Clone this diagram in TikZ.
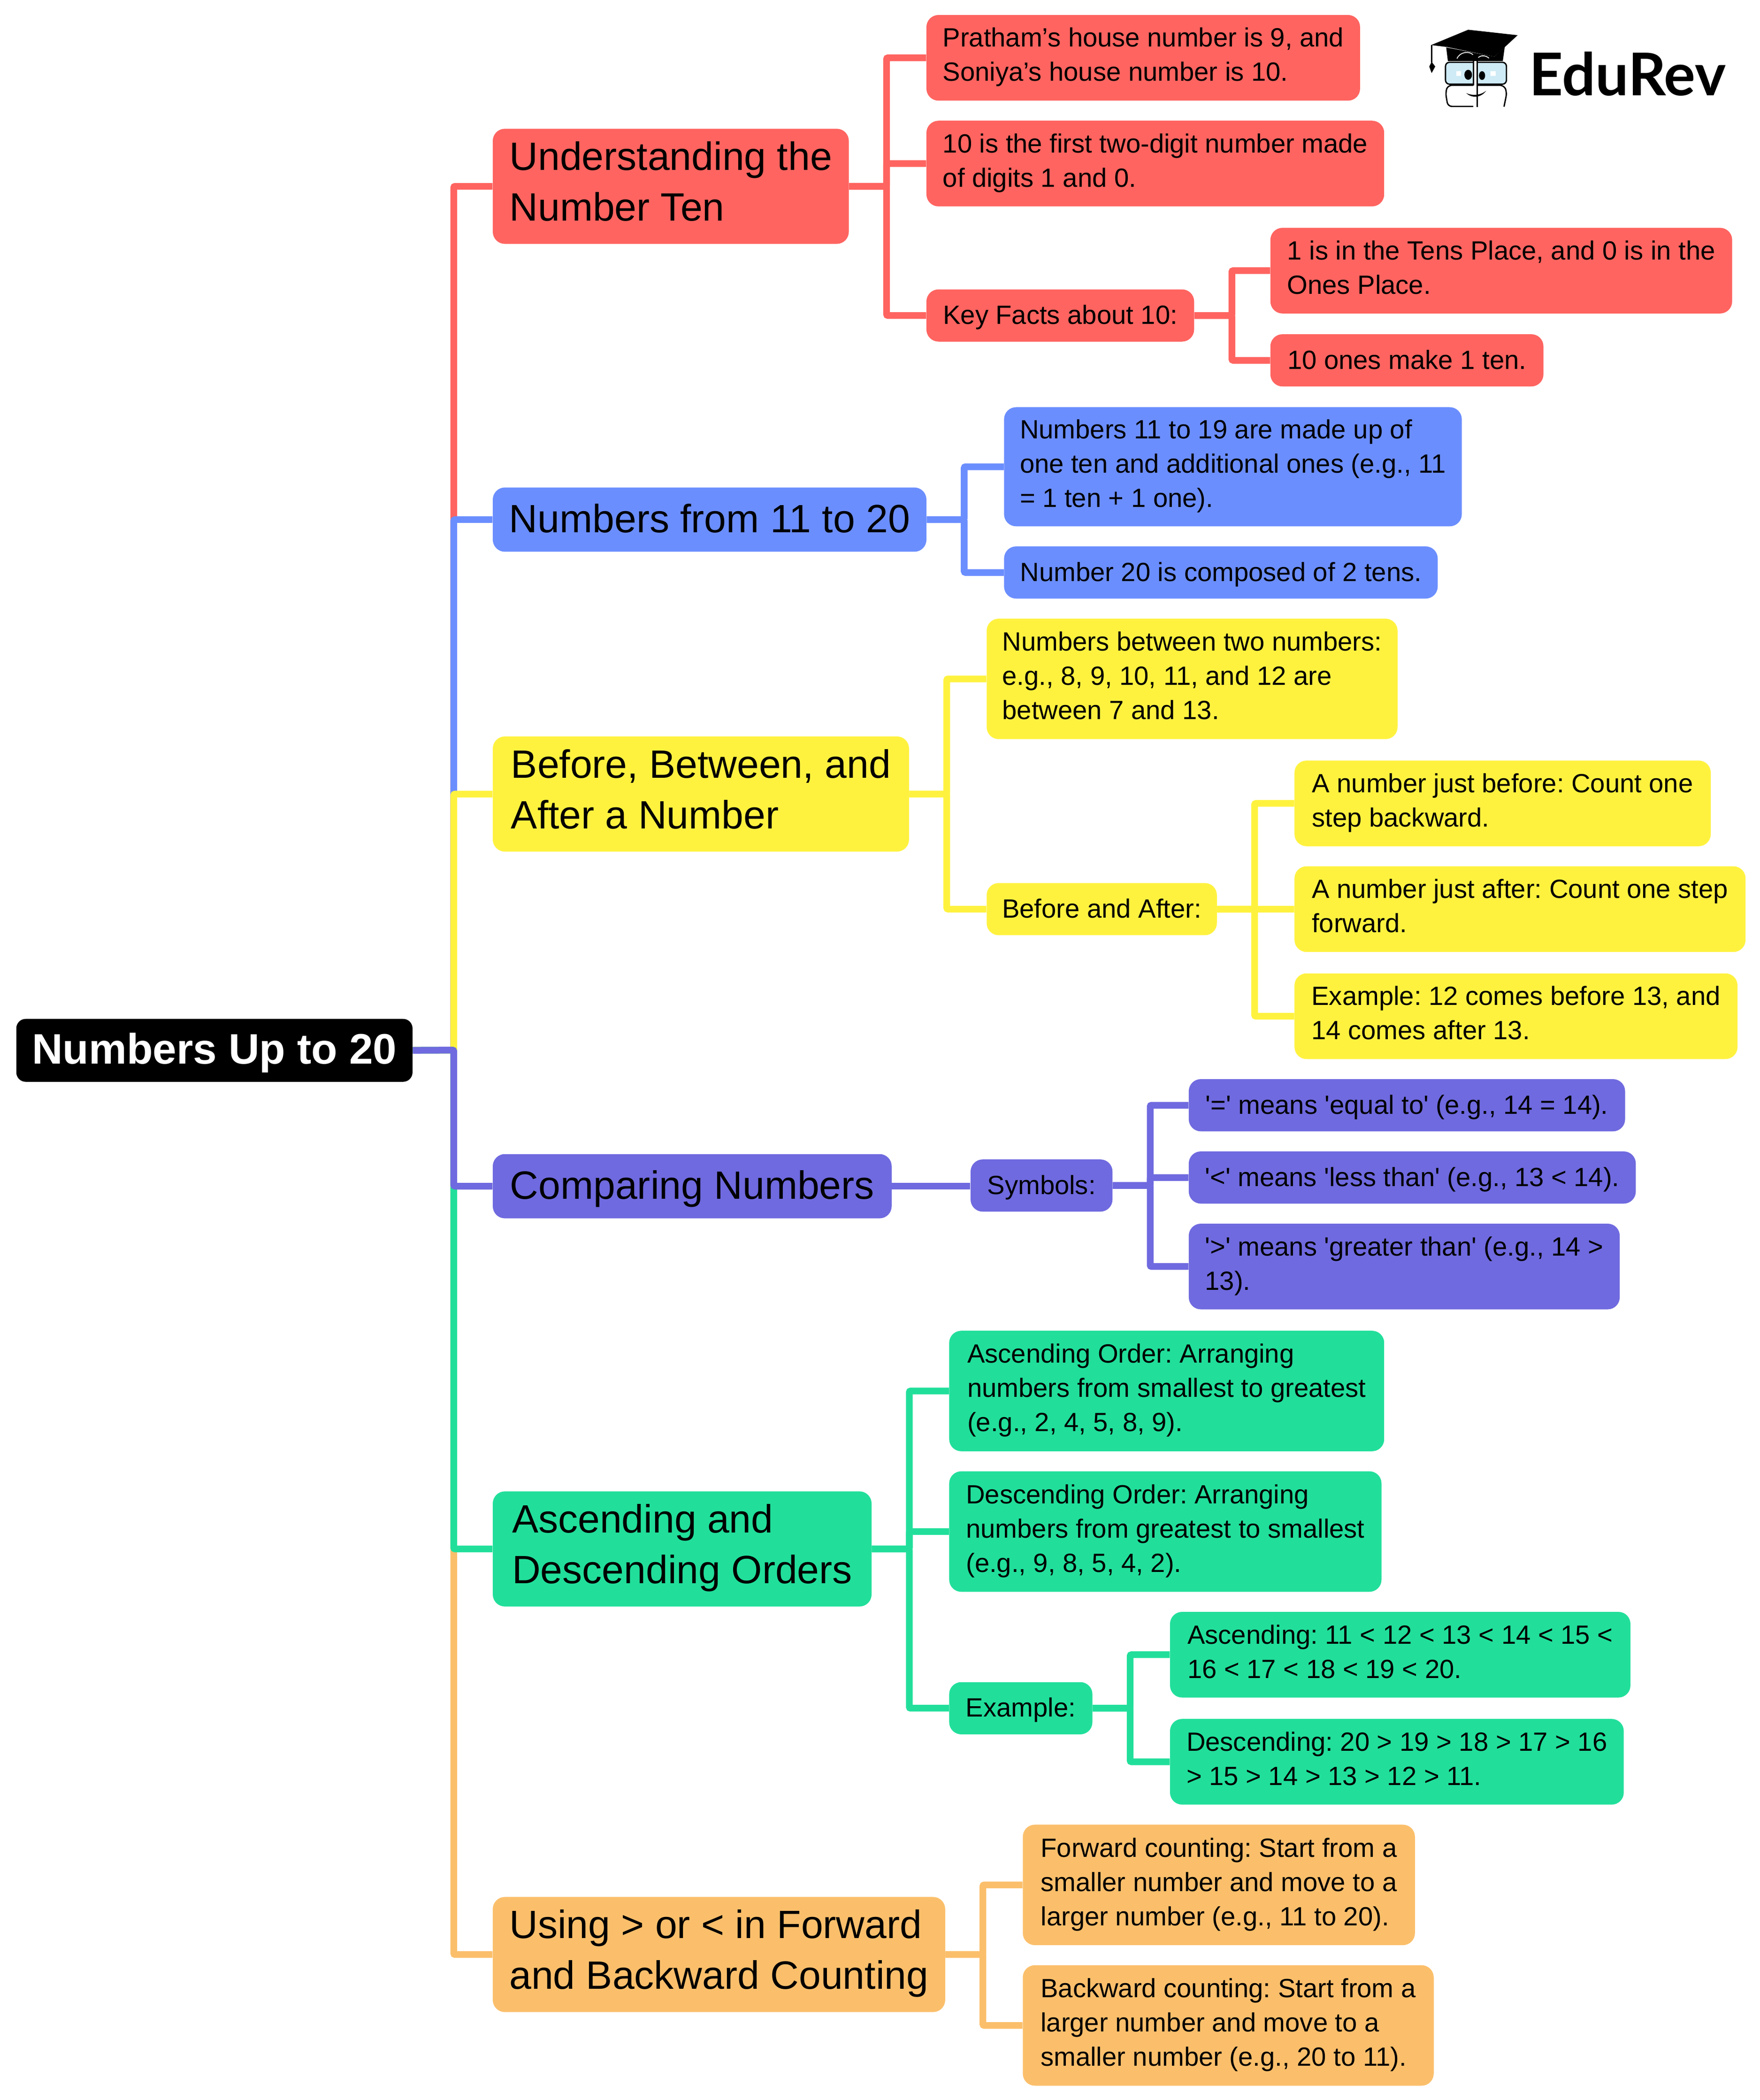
\documentclass[tikz,border=0pt]{standalone}
\usepackage{fontspec}
\newfontfamily\mapfont{Liberation Sans}
\newfontfamily\logofont{Lato}
\definecolor{cRed}{HTML}{FF6460}
\definecolor{cBlue}{HTML}{6B8EFF}
\definecolor{cYellow}{HTML}{FFF23F}
\definecolor{cPurple}{HTML}{6F6ADF}
\definecolor{cGreen}{HTML}{21DF9B}
\definecolor{cOrange}{HTML}{FBBF6B}
\tikzset{
	rootbox/.style={fill=black, text=white, rounded corners=7pt, inner sep=0pt, anchor=north west,
		font=\mapfont\bfseries\frenchspacing\fontsize{31.85}{38}\selectfont,
		execute at begin node={\rule{0pt}{28pt}}, execute at end node={\rule[-8pt]{0pt}{8pt}}},
	topic/.style={fill=#1, rounded corners=9pt, inner sep=0pt, anchor=north west, align=left,
		font=\mapfont\frenchspacing\fontsize{29.5}{38}\selectfont,
		execute at begin node={\rule{0pt}{27pt}}, execute at end node={\rule[-7.6pt]{0pt}{7.6pt}}},
	leaf/.style={fill=#1, rounded corners=9pt, inner sep=0pt, anchor=north west, align=left,
		font=\mapfont\frenchspacing\fontsize{19.7}{25.6}\selectfont,
		execute at begin node={\rule{0pt}{18pt}}, execute at end node={\rule[-5pt]{0pt}{5pt}}},
	link/.style={draw=#1, line width=5pt, rounded corners=1pt}
}

\begin{document}
\begin{tikzpicture}[x=1pt,y=-1pt]
	\useasboundingbox (0,0) rectangle (1315,1568.9);

	% Define nodes
	\node[rootbox, minimum width=296, minimum height=47] (root) at (12,761) {Numbers Up to 20};
	\coordinate (trunk) at (339,784.5);

	\node[topic=cRed, minimum width=266, minimum height=86] (ten) at (368,96) {Understanding the\\Number Ten};
	\node[leaf=cRed, minimum width=324, minimum height=64] (ten1) at (692,11) {Pratham’s house number is 9, and\\Soniya’s house number is 10.};
	\node[leaf=cRed, minimum width=342, minimum height=64] (ten2) at (692,90) {10 is the first two-digit number made\\of digits 1 and 0.};
	\node[leaf=cRed, minimum width=200, minimum height=39] (ten3) at (692,216) {Key Facts about 10:};
	\node[leaf=cRed, minimum width=345, minimum height=64] (ten4) at (949,170) {1 is in the Tens Place, and 0 is in the\\Ones Place.};
	\node[leaf=cRed, minimum width=204, minimum height=39] (ten5) at (949,249.5) {10 ones make 1 ten.};

	\node[topic=cBlue, minimum width=324, minimum height=48] (teens) at (368,364) {Numbers from 11 to 20};
	\node[leaf=cBlue, minimum width=342, minimum height=89] (teens1) at (750,304) {Numbers 11 to 19 are made up of\\one ten and additional ones (e.g., 11\\= 1 ten + 1 one).};
	\node[leaf=cBlue, minimum width=324, minimum height=39] (teens2) at (750,408) {Number 20 is composed of 2 tens.};

	\node[topic=cYellow, minimum width=311, minimum height=86] (order) at (368,550) {Before, Between, and\\After a Number};
	\node[leaf=cYellow, minimum width=307, minimum height=90] (order1) at (737,462) {Numbers between two numbers:\\e.g., 8, 9, 10, 11, and 12 are\\between 7 and 13.};
	\node[leaf=cYellow, minimum width=172, minimum height=39] (order2) at (737,659.5) {Before and After:};
	\node[leaf=cYellow, minimum width=311, minimum height=64] (order3) at (967,568) {A number just before: Count one\\step backward.};
	\node[leaf=cYellow, minimum width=337, minimum height=64] (order4) at (967,647) {A number just after: Count one step\\forward.};
	\node[leaf=cYellow, minimum width=331, minimum height=64] (order5) at (967,727) {Example: 12 comes before 13, and\\14 comes after 13.};

	\node[topic=cPurple, minimum width=298, minimum height=48] (cmp) at (368,862) {Comparing Numbers};
	\node[leaf=cPurple, minimum width=106, minimum height=39] (cmp1) at (725,866) {Symbols:};
	\node[leaf=cPurple, minimum width=326, minimum height=39] (cmp2) at (888,806) {'=' means 'equal to' (e.g., 14 = 14).};
	\node[leaf=cPurple, minimum width=334, minimum height=39] (cmp3) at (888,860) {'<' means 'less than' (e.g., 13 < 14).};
	\node[leaf=cPurple, minimum width=322, minimum height=64] (cmp4) at (888,914) {'>' means 'greater than' (e.g., 14 >\\13).};

	\node[topic=cGreen, minimum width=283, minimum height=86] (sort) at (368,1114) {Ascending and\\Descending Orders};
	\node[leaf=cGreen, minimum width=325, minimum height=90] (sort1) at (709,994) {Ascending Order: Arranging\\numbers from smallest to greatest\\(e.g., 2, 4, 5, 8, 9).};
	\node[leaf=cGreen, minimum width=323, minimum height=90] (sort2) at (709,1099) {Descending Order: Arranging\\numbers from greatest to smallest\\(e.g., 9, 8, 5, 4, 2).};
	\node[leaf=cGreen, minimum width=107, minimum height=39] (sort3) at (709,1256.5) {Example:};
	\node[leaf=cGreen, minimum width=344, minimum height=64] (sort4) at (874,1204) {Ascending: 11 < 12 < 13 < 14 < 15 <\\16 < 17 < 18 < 19 < 20.};
	\node[leaf=cGreen, minimum width=339, minimum height=64] (sort5) at (874,1284) {Descending: 20 > 19 > 18 > 17 > 16\\> 15 > 14 > 13 > 12 > 11.};

	\node[topic=cOrange, minimum width=338, minimum height=86] (count) at (368,1417) {Using > or < in Forward\\and Backward Counting};
	\node[leaf=cOrange, minimum width=293, minimum height=90] (count1) at (764,1363) {Forward counting: Start from a\\smaller number and move to a\\larger number (e.g., 11 to 20).};
	\node[leaf=cOrange, minimum width=307, minimum height=90] (count2) at (764,1468) {Backward counting: Start from a\\larger number and move to a\\smaller number (e.g., 20 to 11).};

	% Connect the nodes
	\foreach \m/\c in {ten/cRed,teens/cBlue,order/cYellow,count/cOrange,sort/cGreen,cmp/cPurple}
		\draw[link=\c] (root.east) -- (trunk) |- (\m.west);
	\foreach \kid in {ten1,ten2,ten3}
		\draw[link=cRed] (ten.east) -- ++(28,0) |- (\kid.west);
	\foreach \kid in {ten4,ten5}
		\draw[link=cRed] (ten3.east) -- ++(28,0) |- (\kid.west);
	\foreach \kid in {teens1,teens2}
		\draw[link=cBlue] (teens.east) -- ++(28,0) |- (\kid.west);
	\foreach \kid in {order1,order2}
		\draw[link=cYellow] (order.east) -- ++(28,0) |- (\kid.west);
	\foreach \kid in {order3,order4,order5}
		\draw[link=cYellow] (order2.east) -- ++(28,0) |- (\kid.west);
	\draw[link=cPurple] (cmp.east) -- (cmp1.west |- cmp.east);
	\foreach \kid in {cmp2,cmp3,cmp4}
		\draw[link=cPurple] (cmp1.east) -- ++(28,0) |- (\kid.west);
	\foreach \kid in {sort1,sort2,sort3}
		\draw[link=cGreen] (sort.east) -- ++(28,0) |- (\kid.west);
	\foreach \kid in {sort4,sort5}
		\draw[link=cGreen] (sort3.east) -- ++(28,0) |- (\kid.west);
	\foreach \kid in {count1,count2}
		\draw[link=cOrange] (count.east) -- ++(28,0) |- (\kid.west);

	% Logo
	\begin{scope}[shift={(1034.5,0)},x=0.1785pt,y=-0.1169pt]
		\fill (258,303) -- (460,362) -- (503,300) -- (495,390) -- (265,390) -- cycle;
		\fill (195,288) -- (350,190) -- (557,225) -- (460,362) -- (260,300) -- cycle;
		\draw[line width=.8pt] (197,288) -- (197,400);
		\fill (197,395) -- (187,425) -- (197,467) -- (212,425) -- cycle;
		\draw[white, line width=.6pt] (303,375) .. controls (315,330) and (355,325) .. (370,350);
		\draw[white, line width=.6pt] (392,368) .. controls (405,350) and (425,355) .. (437,372);
		\draw[line width=1pt, fill=black!15!cyan!20, rounded corners=3pt] (255,398) rectangle (510,538);
		\draw[line width=1pt, rounded corners=3pt] (375,545) -- (265,545) -- (255,590) -- (265,680) -- (372,680);
		\draw[line width=1pt, rounded corners=3pt] (390,545) -- (500,545) -- (512,590) -- (500,682);
		\fill[white] (372,390) rectangle (388,685);
		\draw[line width=.8pt] (372,390) -- (372,545) (388,390) -- (388,685);
		\fill (350,478) ellipse [x radius=16, y radius=32];
		\fill (408,483) ellipse [x radius=13, y radius=28];
		\fill[white] (300,455) rectangle (320,485) (443,455) rectangle (465,485);
		\fill (342,595) .. controls (365,612) and (400,612) .. (425,580) .. controls (405,625) and (365,630) .. cycle;
		\node[anchor=base west, inner sep=0pt, font=\logofont\bfseries\fontsize{44}{44}\selectfont] (brand) at (604,610) {EduRev};
	\end{scope}
\end{tikzpicture}
\end{document}
